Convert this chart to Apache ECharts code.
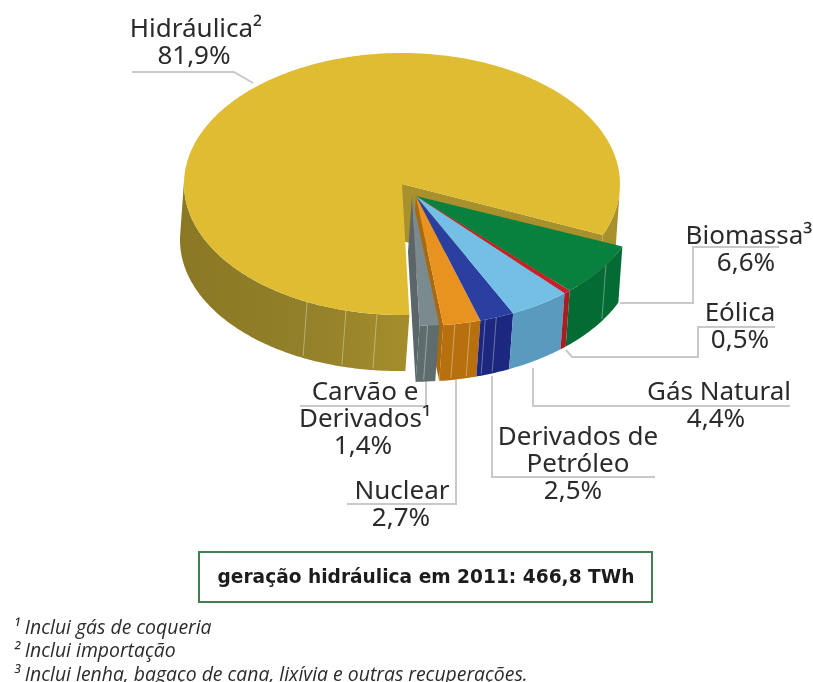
<!DOCTYPE html>
<html>
<head>
<meta charset="utf-8">
<style>html,body{margin:0;padding:0;background:#fff}#main{width:813px;height:682px}</style>
<script src="https://cdn.jsdelivr.net/npm/echarts@6/dist/echarts.min.js"></script>
</head>
<body>
<div id="main"></div>
<script>
// Electricity generation shares, clockwise from the biomass slice
const categories = ['Biomassa', 'Eólica', 'Gás Natural', 'Derivados de Petróleo', 'Nuclear', 'Carvão e Derivados', 'Hidráulica'];
const shares = [6.6, 0.5, 4.4, 2.5, 2.7, 1.4, 81.9];
const topColors = ['#08803e', '#c8202a', '#74bfe6', '#2a3f9f', '#e8921f', '#7b8a8e', '#e0bc33'];
const wallColors = ['#056b35', '#a81c24', '#5a9abf', '#1c2780', '#b8700f', '#5f6c6e', '#9a8428'];
const labelLines = [
  ['Biomassa³'], ['Eólica'], ['Gás Natural'], ['Derivados de', 'Petróleo'],
  ['Nuclear'], ['Carvão e', 'Derivados¹'], ['Hidráulica²']
];
const headline = 'geração hidráulica em 2011: 466,8 TWh';
const footnotes = ['¹ Inclui gás de coqueria', '² Inclui importação', '³ Inclui lenha, bagaço de cana, lixívia e outras recuperações.'];

// Painter's order: the large slice first, the exploded group in front of it
const drawOrder = [6, 5, 4, 3, 2, 1, 0];

// Projection of the pie: start angle, extrusion vector and per-slice centres
const START_DEG = 22.9;
const EXTRUDE = [-4, 56];
const VISIBLE_FROM = 2.5, VISIBLE_TO = 182.5;
const centres = [
  { x: 416, y: 196, rx: 224, ry: 130 }, { x: 416, y: 196, rx: 224, ry: 130 },
  { x: 416, y: 196, rx: 224, ry: 130 }, { x: 416, y: 196, rx: 224, ry: 130 },
  { x: 416, y: 196, rx: 224, ry: 130 }, { x: 412, y: 196, rx: 224, ry: 130 },
  { x: 402, y: 184, rx: 218, ry: 131 }
];
// Faint joints on the outer walls, in degrees around the ellipse
const wallSeams = { 0: [32], 3: [69, 72], 4: [76, 80], 5: [86], 6: [96.6, 104.9, 115.8] };
const NUCLEAR = 4, COAL = 5, HYDRO = 6;

const rad = d => d * Math.PI / 180;
function rim(c, deg) { return [c.x + c.rx * Math.cos(rad(deg)), c.y + c.ry * Math.sin(rad(deg))]; }
function lower(p) { return [p[0] + EXTRUDE[0], p[1] + EXTRUDE[1]]; }
function arc(c, from, to) {
  const pts = [], n = Math.max(2, Math.ceil((to - from) * 1.5));
  for (let i = 0; i <= n; i++) pts.push(rim(c, from + (to - from) * i / n));
  return pts;
}
function wall(c, from, to, fill) {
  const top = arc(c, from, to);
  return { type: 'polygon', shape: { points: top.concat(top.map(lower).reverse()) }, style: { fill: fill } };
}
// Radial cut face at a given angle of a slice
function radialFace(c, deg, fill) {
  const e = rim(c, deg), apex = [c.x, c.y];
  return { type: 'polygon', shape: { points: [apex, e, lower(e), lower(apex)] }, style: { fill: fill } };
}

const spans = [];
shares.reduce((acc, v) => { spans.push([acc, acc + v * 3.6]); return acc + v * 3.6; }, START_DEG);

function renderSlice(params, api) {
  const i = api.value(1);
  const value = api.value(0);
  const from = spans[i][0], to = from + value * 3.6;
  const c = centres[i];
  const apex = [c.x, c.y];
  const kids = [];

  if (i === HYDRO) {
    // Cut face at the start of the large slice, then the two visible wall pieces
    kids.push(radialFace(c, 360 + START_DEG, '#a8902c'));
    kids.push(wall(c, 360 + VISIBLE_FROM, to, '#a8902c'));
    kids.push(wall(c, from, VISIBLE_TO, new echarts.graphic.LinearGradient(1, 0, 0, 0, [
      { offset: 0, color: '#a58d2c' }, { offset: 0.45, color: '#93802a' }, { offset: 1, color: '#8a7824' }
    ])));
  } else {
    if (i === COAL) {
      // The nuclear slice's cut face shows only in the gap beside the coal slice
      kids.push(radialFace(centres[NUCLEAR], spans[NUCLEAR][1], '#a8690f'));
      kids.push(radialFace(c, to, '#5a666a'));
    }
    kids.push(wall(c, from, to, wallColors[i]));
  }
  (wallSeams[i] || []).forEach(deg => {
    const s = rim(c, deg);
    kids.push({ type: 'line', shape: { x1: s[0], y1: s[1], x2: s[0] + EXTRUDE[0], y2: s[1] + EXTRUDE[1] - 2 },
      style: { stroke: 'rgba(255,255,255,0.35)', lineWidth: 1 } });
  });
  kids.push({ type: 'polygon', shape: { points: [apex].concat(arc(c, from, to)) }, style: { fill: topColors[i] } });
  return { type: 'group', children: kids };
}

// Leader lines between the slices and their captions
const leaders = [
  [[620, 303], [693, 303], [693, 247], [779, 247]],
  [[566, 350], [572, 357], [698, 357], [698, 327], [775, 327]],
  [[533, 368], [533, 406], [790, 406]],
  [[492, 376], [492, 477], [655, 477]],
  [[456, 380], [456, 504], [347, 504]],
  [[426, 380], [426, 406], [300, 406]],
  [[132, 72], [234, 72], [253, 83]]
];
// Caption anchors: x centre and middle of the first line, x centre of the value
const captionAt = [
  { x: 749, y: 237, vx: 746 }, { x: 740, y: 314, vx: 740 }, { x: 719, y: 393, vx: 716 },
  { x: 578, y: 438, vx: 573 }, { x: 402, y: 492, vx: 401 }, { x: 365, y: 393, vx: 363 },
  { x: 196, y: 30, vx: 194 }
];
const LINE_H = 27;
const capFont = '400 26px "Noto Sans", sans-serif';

const graphics = [];
leaders.forEach(l => graphics.push({
  type: 'polyline', silent: true, z: 1, shape: { points: l },
  style: { stroke: '#c9c9c9', lineWidth: 2, fill: 'none' }
}));
categories.forEach((name, i) => {
  const at = captionAt[i];
  const lines = labelLines[i];
  lines.forEach((t, k) => graphics.push({
    type: 'text', z: 5, x: at.x, y: at.y + k * LINE_H,
    style: { text: t, font: capFont, fill: '#2b2b2b', align: 'center', verticalAlign: 'middle' }
  }));
  graphics.push({
    type: 'text', z: 5, x: at.vx, y: at.y + lines.length * LINE_H,
    style: { text: shares[i].toFixed(1).replace('.', ',') + '%', font: capFont, fill: '#2b2b2b', align: 'center', verticalAlign: 'middle' }
  });
});
graphics.push({
  type: 'rect', z: 2, shape: { x: 199, y: 552, width: 453, height: 50 },
  style: { fill: '#fff', stroke: '#3f7f52', lineWidth: 2 }
});
graphics.push({
  type: 'text', z: 5, x: 426, y: 578,
  style: { text: headline, font: '700 18.6px "DejaVu Sans", sans-serif', fill: '#1c1c1c', align: 'center', verticalAlign: 'middle' }
});
footnotes.forEach((t, k) => graphics.push({
  type: 'text', z: 5, x: 13, y: 628 + k * 23.5,
  style: { text: t, font: 'italic 400 19.4px "Open Sans", sans-serif', fill: '#2b2b2b', align: 'left', verticalAlign: 'middle' }
}));

const chart = echarts.init(document.getElementById('main'), null, { renderer: 'canvas' });
chart.setOption({
  animation: false,
  backgroundColor: '#ffffff',
  graphic: { elements: graphics },
  series: [{
    type: 'custom',
    coordinateSystem: 'none',
    silent: true,
    z: 3,
    renderItem: renderSlice,
    data: drawOrder.map(i => ({ name: categories[i], value: [shares[i], i] }))
  }]
});
</script>
</body>
</html>
